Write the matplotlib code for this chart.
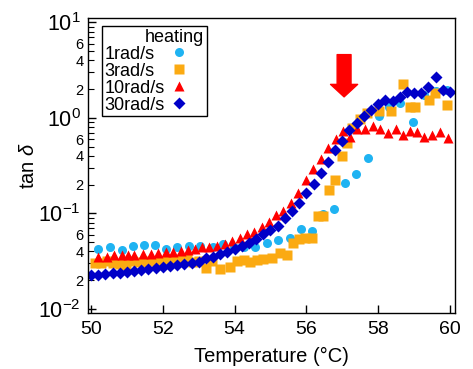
import math
import matplotlib
matplotlib.use("Agg")
import matplotlib.pyplot as plt
from matplotlib.lines import Line2D
from matplotlib.ticker import LogLocator, FuncFormatter, MultipleLocator

plt.rcParams['font.family'] = ['Liberation Sans', 'DejaVu Sans']
plt.rcParams['mathtext.fontset'] = 'custom'
plt.rcParams['mathtext.rm'] = 'Liberation Sans'
plt.rcParams['mathtext.it'] = 'Liberation Sans:italic'
plt.rcParams['axes.unicode_minus'] = False

# ---- data ----
x_1 = [50.2, 50.53, 50.87, 51.17, 51.48, 51.78, 52.09, 52.4, 52.73, 53.05, 53.4, 53.68,
       53.98, 54.27, 54.57, 54.89, 55.22, 55.54, 55.84, 56.15, 56.45, 56.77, 57.08, 57.38,
       57.71, 58.02, 58.31, 58.61, 58.96, 59.27, 59.6, 59.91]
y_1 = [0.0425, 0.0449, 0.0415, 0.046, 0.0465, 0.0465, 0.0422, 0.0449, 0.046, 0.0457, 0.0449, 0.0476,
       0.044, 0.0445, 0.0443, 0.0494, 0.0524, 0.0558, 0.0683, 0.0656, 0.0988, 0.111, 0.206, 0.26,
       0.378, 1.05, 1.3, 1.42, 0.90, 1.74, 1.9, 1.96]

x_3 = [50.1, 50.28, 50.45, 50.62, 50.8, 50.97, 51.14, 51.3, 51.48, 51.65, 51.82, 52.0, 52.17,
       52.34, 52.5, 52.68, 52.85, 53.02, 53.2, 53.37, 53.58, 53.88, 54.06, 54.25, 54.43, 54.62,
       54.8, 55.05, 55.27, 55.47, 55.62, 55.79, 55.96, 56.15, 56.33, 56.47, 56.64, 56.8, 56.98,
       57.12, 57.27, 57.49, 57.7, 58.03, 58.35, 58.7, 58.89, 59.03, 59.42, 59.58, 59.91]
y_3 = [0.0301, 0.0305, 0.0314, 0.0300, 0.0296, 0.0286, 0.0314, 0.0310, 0.0309, 0.0318, 0.0316,
       0.0314, 0.0320, 0.0326, 0.0330, 0.0334, 0.0309, 0.0318, 0.0271, 0.0314, 0.0262, 0.0275,
       0.0314, 0.0326, 0.0313, 0.0326, 0.0337, 0.0344, 0.0386, 0.0365, 0.0487, 0.0540, 0.0550,
       0.0550, 0.0948, 0.0948, 0.176, 0.222, 0.403, 0.543, 0.78, 0.97, 1.12, 1.19, 1.19, 2.27,
       1.29, 1.29, 1.54, 1.84, 1.37]

x_10 = [50.2, 50.44, 50.65, 50.85, 51.04, 51.2, 51.46, 51.67, 51.88, 52.08, 52.29, 52.51, 52.71,
        52.9, 53.08, 53.3, 53.5, 53.73, 53.94, 54.15, 54.35, 54.55, 54.75, 54.97, 55.15, 55.36,
        55.56, 55.77, 55.99, 56.19, 56.4, 56.61, 56.82, 57.01, 57.21, 57.42, 57.63, 57.85, 58.05,
        58.28, 58.5, 58.68, 58.89, 59.07, 59.28, 59.49, 59.72, 59.95]
y_10 = [0.035, 0.0353, 0.0367, 0.0365, 0.0365, 0.037, 0.0373, 0.0377, 0.0383, 0.0393, 0.0393,
        0.0404, 0.041, 0.0422, 0.0443, 0.0449, 0.0457, 0.048, 0.0516, 0.0558, 0.0605, 0.0645,
        0.0716, 0.082, 0.0964, 0.107, 0.130, 0.165, 0.226, 0.294, 0.37, 0.48, 0.603, 0.726,
        0.628, 0.767, 0.767, 0.824, 0.762, 0.702, 0.762, 0.669, 0.736, 0.713, 0.628, 0.664,
        0.719, 0.613]

x_30 = [50.0, 50.2, 50.4, 50.6, 50.8, 51.0, 51.2, 51.4, 51.6, 51.8, 52.0, 52.2, 52.4, 52.6, 52.8,
        53.0, 53.2, 53.4, 53.6, 53.8, 54.0, 54.2, 54.4, 54.6, 54.8, 55.0, 55.2, 55.4, 55.6, 55.8,
        56.0, 56.2, 56.4, 56.6, 56.8, 57.0, 57.2, 57.4, 57.6, 57.8, 58.0, 58.2, 58.4, 58.6, 58.8,
        59.0, 59.2, 59.4, 59.6, 59.8, 60.0]
y_30 = [0.0225, 0.0228, 0.0232, 0.0236, 0.0240, 0.0244, 0.0250, 0.0255, 0.0260, 0.0266, 0.0272,
        0.0279, 0.0286, 0.0294, 0.0302, 0.0312, 0.034, 0.0353, 0.0377, 0.0398, 0.0422, 0.0457,
        0.0495, 0.0537, 0.0606, 0.0672, 0.074, 0.0891, 0.107, 0.128, 0.163, 0.202, 0.268, 0.347,
        0.462, 0.578, 0.749, 0.893, 1.05, 1.21, 1.39, 1.54, 1.52, 1.65, 1.89, 1.84, 1.84, 2.10,
        2.67, 1.96, 1.89]

labels = ['1rad/s', '3rad/s', '10rad/s', '30rad/s']
arrow_x = 57.05
arrow_from = 4.6
arrow_to = 1.66

# ---- figure ----
fig = plt.figure(figsize=(4.73, 3.69), dpi=100)
ax = fig.add_axes([0.186, 0.152, 0.776, 0.799])

h1, = ax.plot(x_1, y_1, 'o', color='#1fb3f2', ms=6.5, mec='none', label=labels[0])
h3, = ax.plot(x_3, y_3, 's', color='#fbaa12', ms=6.5, mec='none', label=labels[1])
h10, = ax.plot(x_10, y_10, '^', color='#ff0000', ms=7.5, mec='none', label=labels[2])
h30, = ax.plot(x_30, y_30, 'D', color='#0000c8', ms=6.5, mec='none', label=labels[3])

ax.set_yscale('log')
ax.set_xlim(49.916, 60.14)
ax.set_ylim(0.00908, 11.1)

ax.xaxis.set_major_locator(MultipleLocator(2))
ax.yaxis.set_major_locator(LogLocator(base=10, numticks=10))
ax.yaxis.set_minor_locator(LogLocator(base=10, subs=range(2, 10), numticks=20))

def minor_fmt(v, pos):
    m = round(v / 10 ** math.floor(math.log10(v) + 1e-9))
    return str(m) if m in (2, 4, 6) else ''
ax.yaxis.set_minor_formatter(FuncFormatter(minor_fmt))

ax.tick_params(which='major', direction='in', length=6, width=1, pad=5)
ax.tick_params(axis='y', which='major', labelsize=15.5)
ax.tick_params(which='minor', direction='in', length=4, width=0.8, labelsize=10.5, pad=3)
ax.tick_params(axis='x', which='major', labelsize=14, pad=6)
for s in ax.spines.values():
    s.set_linewidth(1.0)

ax.set_xlabel('Temperature (°C)', fontsize=14.5, labelpad=6)
ax.set_ylabel(r'tan $\delta$', fontsize=14.5, labelpad=0)

ax.annotate('', xy=(arrow_x, arrow_to), xytext=(arrow_x, arrow_from),
            arrowprops=dict(arrowstyle='simple,head_length=0.9,head_width=1.95,tail_width=1.0',
                            color='#ff0000', shrinkA=0, shrinkB=0, mutation_scale=10))

blank = Line2D([], [], linestyle='none', marker='none')
handles = [blank] * 4 + [h1, h3, h10, h30]
leg_labels = labels + ['     '] * 4
leg = ax.legend(handles, leg_labels, ncol=2, loc='upper left', bbox_to_anchor=(0.038, 0.973),
                borderaxespad=0, title='heating', title_fontsize=13, fontsize=13,
                frameon=True, fancybox=False, edgecolor='black', framealpha=1,
                handlelength=0.0, handletextpad=0.0, columnspacing=0.8, labelspacing=0.0,
                borderpad=0.15)
leg._legend_box.align = 'right'
for col in leg._legend_handle_box.get_children():
    col.align = 'left'
leg.get_frame().set_linewidth(1.0)

fig.savefig('out.png', dpi=100)
